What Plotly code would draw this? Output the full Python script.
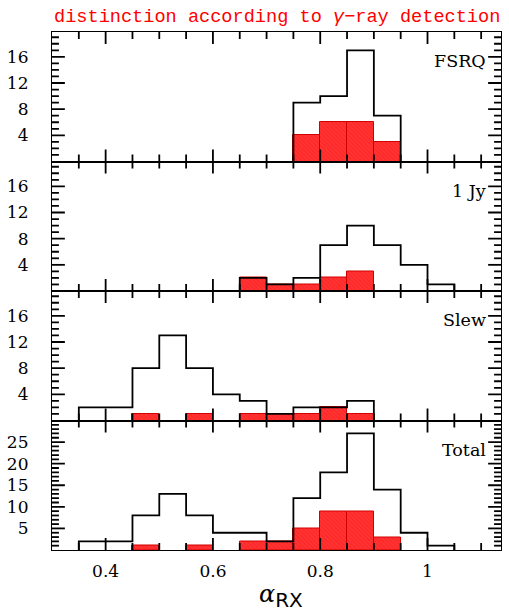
import plotly.graph_objects as go
from plotly.subplots import make_subplots

# bin left edges (alpha_RX), bin width 0.05
bin_left = [0.35, 0.40, 0.45, 0.50, 0.55, 0.60, 0.65, 0.70, 0.75, 0.80, 0.85, 0.90, 0.95, 1.00]
bin_width = 0.05

fsrq_all   = [0, 0, 0, 0, 0, 0, 0, 0, 9, 10, 17, 7, 0, 0]
fsrq_gamma = [0, 0, 0, 0, 0, 0, 0, 0, 4, 6, 6, 3, 0, 0]
jy_all     = [0, 0, 0, 0, 0, 0, 2, 1, 2, 7, 10, 7, 4, 1]
jy_gamma   = [0, 0, 0, 0, 0, 0, 2, 1, 1, 2, 3, 0, 0, 0]
slew_all   = [2, 2, 8, 13, 8, 4, 3, 1, 2, 2, 3, 0, 0, 0]
slew_gamma = [0, 0, 1, 0, 1, 0, 1, 1, 1, 2, 1, 0, 0, 0]
tot_all    = [2, 2, 8, 13, 8, 4, 4, 2, 12, 18, 27, 14, 4, 1]
tot_gamma  = [0, 0, 1, 0, 1, 0, 2, 2, 5, 9, 9, 3, 0, 0]

panel_names = ["FSRQ", "1 Jy", "Slew", "Total"]
y_tickvals = [[4, 8, 12, 16], [4, 8, 12, 16], [4, 8, 12, 16], [5, 10, 15, 20, 25]]
y_ranges = [[0, 19.8], [0, 19.8], [0, 19.8], [0, 30]]
y_minor = [list(range(1, 20)), list(range(1, 20)), list(range(1, 20)), list(range(1, 30))]
x_range = [0.3, 1.137]
x_tickvals = [0.4, 0.6, 0.8, 1.0]
x_ticktext = ["0.4", "0.6", "0.8", "1"]
x_minor = [0.35, 0.45, 0.5, 0.55, 0.65, 0.7, 0.75, 0.85, 0.9, 0.95, 1.05, 1.1]
title_text = "distinction according to <i>γ</i>\u2212ray detection"

series = [(fsrq_all, fsrq_gamma), (jy_all, jy_gamma), (slew_all, slew_gamma), (tot_all, tot_gamma)]

FONT = "DejaVu Serif"
W, H = 509, 611
ml, mr, mt, mb = 48.5, 7, 31.7, 61
plot_w = W - ml - mr
plot_h = H - mt - mb
panel_h = plot_h / 4

fig = make_subplots(rows=4, cols=1, shared_xaxes=True, vertical_spacing=0)

for i, (allc, gam) in enumerate(series):
    row = i + 1
    gy = [v if v > 0 else None for v in gam]
    fig.add_trace(go.Bar(
        x=bin_left, y=gy, width=bin_width, offset=0,
        marker=dict(color="#ff2b2b",
                    line=dict(color="#d00000", width=1),
                    pattern=dict(shape="\\", fgcolor="#ff7070", size=3, solidity=0.15)),
        showlegend=False, hoverinfo="skip"), row=row, col=1)
    nz = [k for k, v in enumerate(allc) if v > 0]
    a, b = nz[0], nz[-1]
    xs = [bin_left[a]] + [bin_left[k] for k in range(a, b + 1)] + [bin_left[b] + bin_width]
    ys = [0] + [allc[k] for k in range(a, b + 1)] + [0]
    fig.add_trace(go.Scatter(
        x=xs, y=ys, mode="lines", line=dict(color="black", width=1.8, shape="hv"),
        showlegend=False, hoverinfo="skip", cliponaxis=False), row=row, col=1)

    # tick marks on all four sides (axis decoration: lengths converted from pixels)
    y0, y1 = y_ranges[i]
    ux = (x_range[1] - x_range[0]) / plot_w
    uy = (y1 - y0) / panel_h
    tx, ty = [], []
    for v, L in [(t, 12) for t in x_tickvals] + [(t, 7) for t in x_minor]:
        tx += [v, v, None, v, v, None]
        ty += [y0, y0 + L * uy, None, y1, y1 - L * uy, None]
    yminors = [t for t in y_minor[i] if t not in y_tickvals[i] and t < y1]
    for v, L in [(t, 13) for t in y_tickvals[i]] + [(t, 7) for t in yminors]:
        tx += [x_range[0], x_range[0] + L * ux, None, x_range[1], x_range[1] - L * ux, None]
        ty += [v, v, None, v, v, None]
    fig.add_trace(go.Scatter(
        x=tx, y=ty, mode="lines", line=dict(color="black", width=1.8),
        showlegend=False, hoverinfo="skip", cliponaxis=False), row=row, col=1)

for i in range(4):
    row = i + 1
    sfx = "" if row == 1 else str(row)
    top = 1 - i * panel_h / plot_h
    bot = 1 - (i + 1) * panel_h / plot_h
    fig.update_yaxes(
        row=row, col=1, domain=[bot, top], range=y_ranges[i],
        tickmode="array", tickvals=y_tickvals[i], ticks="",
        showline=True, linecolor="black", linewidth=1.2, mirror=True,
        showgrid=False, zeroline=False, ticklabelstandoff=19,
        tickfont=dict(family=FONT, size=17, color="black"))
    fig.update_xaxes(
        row=row, col=1, range=x_range,
        tickmode="array", tickvals=x_tickvals, ticktext=x_ticktext, ticks="",
        showline=True, linecolor="black", linewidth=1.2, mirror=True,
        showgrid=False, zeroline=False, ticklabelstandoff=5,
        showticklabels=(row == 4),
        tickfont=dict(family=FONT, size=17, color="black"))
    fig.add_annotation(
        xref=f"x{sfx} domain", yref=f"y{sfx} domain",
        x=0.97, y=0.775, xanchor="right", yanchor="middle", showarrow=False,
        text=panel_names[i], font=dict(family=FONT, size=17.5, color="black"))

fig.add_annotation(
    xref="paper", yref="paper", x=0.5, y=1, yshift=2, xanchor="center", yanchor="bottom",
    text=title_text, showarrow=False,
    font=dict(family="Liberation Mono", size=18.6, color="red"))

fig.add_annotation(
    xref="paper", yref="paper", x=0.51, y=0, yshift=-28, xanchor="center", yanchor="top",
    text="<i>α</i><sub><span style='font-size:20px;font-family:DejaVu Sans'>RX</span></sub>",
    showarrow=False, font=dict(family=FONT, size=24, color="black"))

fig.update_layout(
    width=W, height=H, barmode="overlay",
    margin=dict(l=ml, r=mr, t=mt, b=mb, pad=0),
    plot_bgcolor="white", paper_bgcolor="white",
    bargap=0)

fig.write_html("out.html")
